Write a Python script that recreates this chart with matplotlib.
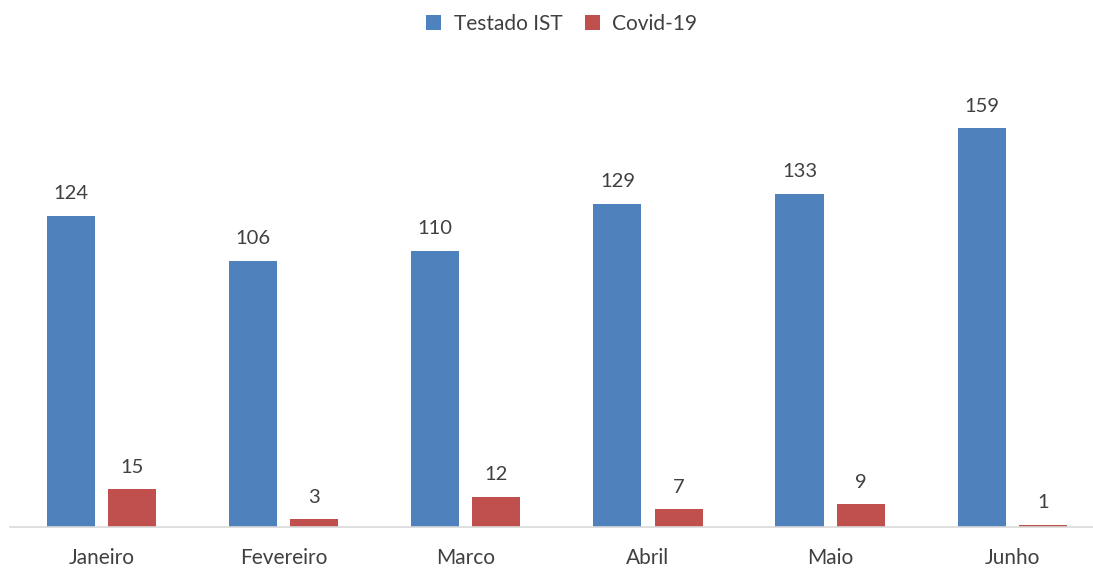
import numpy as np
import matplotlib.pyplot as plt

plt.rcParams['font.family'] = ['Lato', 'DejaVu Sans']

meses = ["Janeiro", "Fevereiro", "Marco", "Abril", "Maio", "Junho"]
testado_ist = [124, 106, 110, 129, 133, 159]
covid19 = [15, 3, 12, 7, 9, 1]

azul = '#4F81BD'
vermelho = '#C0504D'
texto = '#404040'

fig = plt.figure(figsize=(10.93, 5.69), dpi=100)
ax = fig.add_axes([0.0095, 0.0738, 1.0, 0.793])

x = np.arange(len(meses))
w = 0.264
off = 0.168
b1 = ax.bar(x - off, testado_ist, w, color=azul, label='Testado IST')
b2 = ax.bar(x + off, covid19, w, color=vermelho, label='Covid-19')

for bars, vals in ((b1, testado_ist), (b2, covid19)):
    for r, v in zip(bars, vals):
        ax.annotate(str(v), (r.get_x() + r.get_width() / 2, r.get_height()),
                    xytext=(0, 10), textcoords='offset points',
                    ha='center', va='bottom', fontsize=14.5, color=texto)

ax.set_xlim(-0.5, len(meses) - 0.5)
ax.set_ylim(0, 180)
ax.set_xticks(x)
ax.set_xticklabels(meses, fontsize=15, color=texto)
ax.tick_params(axis='x', length=0, pad=15)
ax.set_yticks([])
for s in ['top', 'right', 'left']:
    ax.spines[s].set_visible(False)
ax.spines['bottom'].set_color('#D9D9D9')
ax.spines['bottom'].set_linewidth(1.2)

fig.legend(handles=[b1, b2], loc='center', bbox_to_anchor=(0.514, 0.958),
           ncol=2, frameon=False, fontsize=15, labelcolor=texto,
           handlelength=0.7, handleheight=0.7, handletextpad=0.6,
           columnspacing=1.1)

plt.savefig('out.png', dpi=100)
